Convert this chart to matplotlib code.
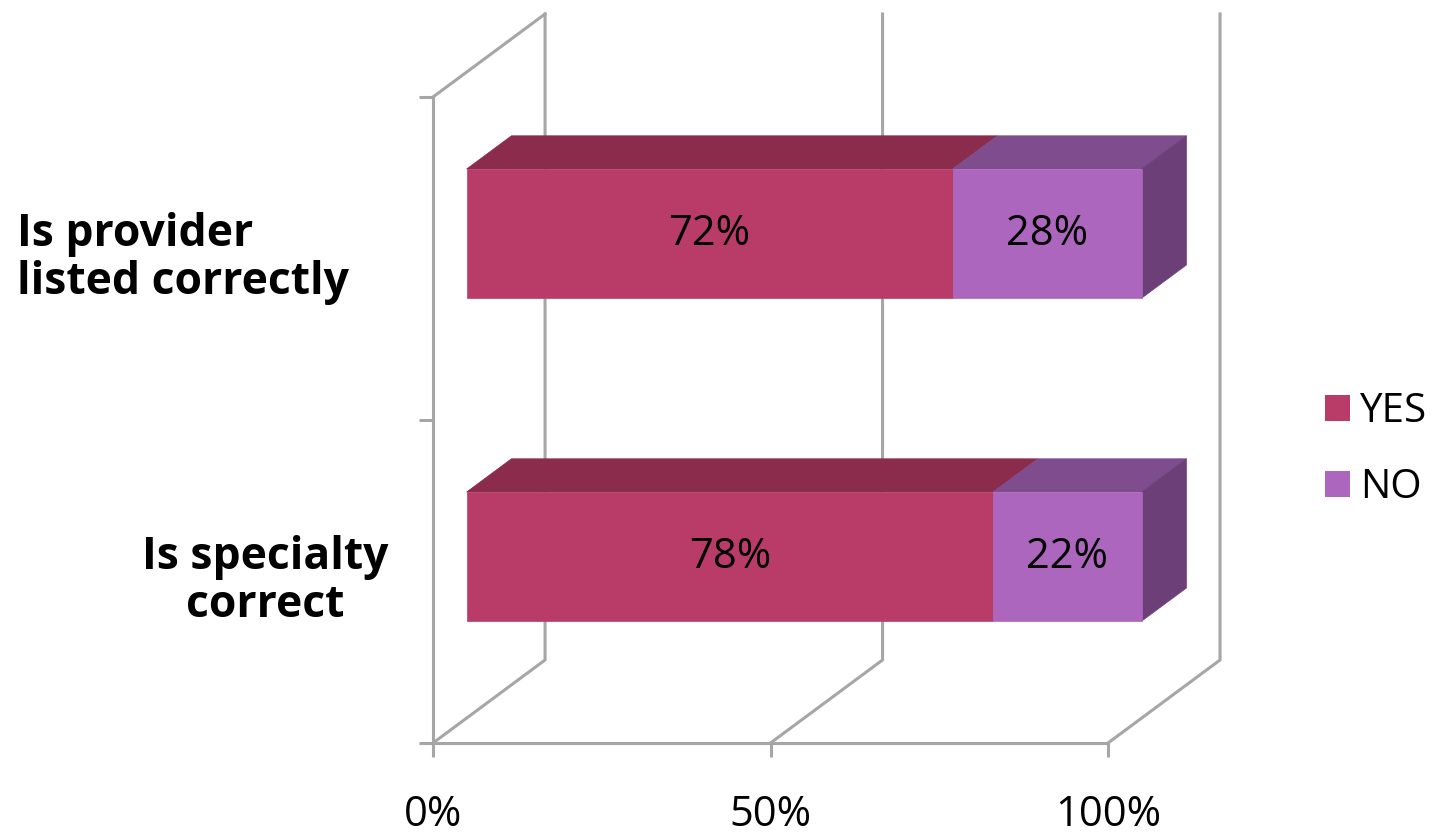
import matplotlib
matplotlib.use("Agg")
import matplotlib.pyplot as plt
from matplotlib.patches import Polygon, Patch

plt.rcParams['font.family'] = ['Open Sans', 'DejaVu Sans']

# Данные
categories = ['Is specialty\ncorrect', 'Is provider\nlisted correctly']
yes_pct = [78, 72]
no_pct = [22, 28]
series_names = ['YES', 'NO']
x_ticks = [0, 50, 100]
x_tick_labels = ['0%', '50%', '100%']

# Цвета: лицевая грань, верхняя грань, боковая грань
colors = {
    'YES': ('#B93C68', '#8B2C4D', '#6E2340'),
    'NO': ('#AC66BE', '#7F4C8E', '#6C3F79'),
}
grid_color = '#A6A6A6'

# Смещение глубины (псевдо-3D) в единицах данных
DX = 16.6
DY = 0.257
BAR_D0, BAR_D1 = 0.3, 0.7
BAR_HALF = 0.2


def proj(x, y, d):
    return (x + d * DX, y + d * DY)


fig = plt.figure(figsize=(14.43, 8.35), dpi=100)
ax = fig.add_axes([433 / 1443, (835 - 743) / 835, 675 / 1443, 646 / 835])
ax.set_xlim(0, 100)
ax.set_ylim(0, len(categories))
ax.set_facecolor('none')

# Оси: передний край пола и левая стенка
for side in ['top', 'right']:
    ax.spines[side].set_visible(False)
for side in ['bottom', 'left']:
    ax.spines[side].set_color(grid_color)
    ax.spines[side].set_linewidth(2.2)
ax.set_xticks(x_ticks)
ax.set_xticklabels(x_tick_labels, fontsize=30)
ax.set_yticks(range(len(categories) + 1))
ax.set_yticklabels([])
ax.tick_params(axis='both', color=grid_color, width=2.2, length=10, direction='out')
ax.tick_params(axis='x', pad=27)

# Сетка на задней стенке и линии пола
line_kw = dict(color=grid_color, lw=2.2, clip_on=False, zorder=1)
top = len(categories)
for xv in x_ticks:
    p0 = proj(xv, 0, 0)
    p1 = proj(xv, 0, 1)
    p2 = proj(xv, top, 1)
    ax.plot([p0[0], p1[0], p2[0]], [p0[1], p1[1], p2[1]], **line_kw)
# верхний край левой стенки
a = proj(0, top, 0)
b = proj(0, top, 1)
ax.plot([a[0], b[0]], [a[1], b[1]], **line_kw)


def face(points, color, z):
    ax.add_patch(Polygon(points, closed=True, facecolor=color, edgecolor=color,
                         lw=0.5, clip_on=False, zorder=z))


# Столбцы с накоплением
for i, (yv, nv) in enumerate(zip(yes_pct, no_pct)):
    yc = i + 0.5
    y0, y1 = yc - BAR_HALF, yc + BAR_HALF
    left = 0
    segs = [('YES', yv), ('NO', nv)]
    for k, (name, val) in enumerate(segs):
        front, topc, sidec = colors[name]
        right = left + val
        # верхняя грань
        face([proj(left, y1, BAR_D0), proj(right, y1, BAR_D0),
              proj(right, y1, BAR_D1), proj(left, y1, BAR_D1)], topc, 2)
        # боковая грань у правого конца
        if k == len(segs) - 1:
            face([proj(right, y0, BAR_D0), proj(right, y1, BAR_D0),
                  proj(right, y1, BAR_D1), proj(right, y0, BAR_D1)], sidec, 2)
        # лицевая грань
        face([proj(left, y0, BAR_D0), proj(right, y0, BAR_D0),
              proj(right, y1, BAR_D0), proj(left, y1, BAR_D0)], front, 3)
        cx, cy = proj((left + right) / 2, yc, BAR_D0)
        ax.text(cx, cy, f'{val}%', ha='center', va='center', fontsize=30,
                color='black', zorder=4)
        left = right

# Подписи категорий
label_x = [-24.9, -37.0]
label_align = ['center', 'left']
for i, (lab, lx, al) in enumerate(zip(categories, label_x, label_align)):
    ax.text(lx, i + 0.5, lab, ha='center', va='center', fontsize=32,
            fontweight='bold', multialignment=al, linespacing=1.08, clip_on=False)

# Легенда
handles = [Patch(facecolor=colors[n][0], edgecolor='none') for n in series_names]
fig.legend(handles, series_names, loc='center left',
           bbox_to_anchor=(1325 / 1443, 1 - 450 / 835), frameon=False,
           fontsize=29, handlelength=0.63, handleheight=0.63,
           handletextpad=0.25, labelspacing=0.88, borderpad=0,
           borderaxespad=0)

fig.savefig('out.png', dpi=100)
